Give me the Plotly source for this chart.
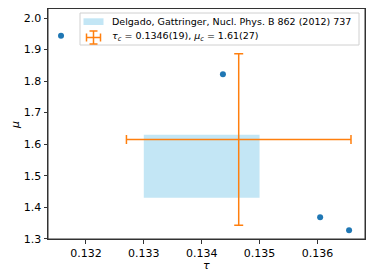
import plotly.graph_objects as go

# data
tau_points = [0.13157, 0.134367, 0.136047, 0.136547]
mu_points = [1.944, 1.822, 1.368, 1.327]

band_tau = [0.133, 0.135]
band_mu = [1.43, 1.63]
band_label = "Delgado, Gattringer, Nucl. Phys. B 862 (2012) 737"

tau_c = [0.13464]
tau_c_err = [0.00194]
mu_c = [1.615]
mu_c_err = [0.272]
crit_label = "<i>τ</i><sub><i>c</i></sub> = 0.1346(19), <i>μ</i><sub><i>c</i></sub> = 1.61(27)"

x_ticks = [0.132, 0.133, 0.134, 0.135, 0.136]
y_ticks = [1.3, 1.4, 1.5, 1.6, 1.7, 1.8, 1.9, 2.0]

BLUE = "#1f77b4"
ORANGE = "#ff7f0e"
BAND = "rgba(135,206,235,0.5)"
FONT = "DejaVu Sans"

# the page body adds an 8px offset; compensate so the final picture lines up
OFF = 8
W, H = 374, 280
PL, PT, PW, PH = 48, 8, 317, 231  # plot area in screen pixels
L, T = PL - OFF, PT - OFF
R, B = W - L - PW, H - T - PH


def px(x):
    return (x - OFF - L) / PW


def py(y):
    return (H - B - (y - OFF)) / PH


fig = go.Figure()

fig.add_trace(go.Scatter(
    x=[band_tau[0], band_tau[1], band_tau[1], band_tau[0], band_tau[0]],
    y=[band_mu[0], band_mu[0], band_mu[1], band_mu[1], band_mu[0]],
    fill="toself", fillcolor=BAND, mode="none", showlegend=False,
    hoverinfo="skip"))

fig.add_trace(go.Scatter(
    x=tau_c, y=mu_c, mode="markers",
    marker=dict(size=1, color="rgba(0,0,0,0)"),
    error_x=dict(type="data", array=tau_c_err, color=ORANGE, thickness=1.5, width=4.5),
    error_y=dict(type="data", array=mu_c_err, color=ORANGE, thickness=1.5, width=4.5),
    showlegend=False))

fig.add_trace(go.Scatter(
    x=tau_points, y=mu_points, mode="markers",
    marker=dict(size=6, color=BLUE), showlegend=False))

shapes = []
# plot frame
shapes.append(dict(type="rect", xref="paper", yref="paper",
                   x0=0, x1=1, y0=0, y1=py(8.5),
                   line=dict(color="#333", width=1),
                   fillcolor="rgba(0,0,0,0)", layer="above"))
# legend frame
shapes.append(dict(type="rect", xref="paper", yref="paper",
                   x0=px(80), x1=px(359), y0=py(45), y1=py(13),
                   line=dict(color="#d0d0d0", width=1),
                   fillcolor="rgba(255,255,255,0.8)", layer="above"))
# band swatch
shapes.append(dict(type="rect", xref="paper", yref="paper",
                   x0=px(83.5), x1=px(103.5), y0=py(25), y1=py(18.3),
                   line=dict(width=0), fillcolor=BAND, layer="above"))
# errorbar swatch
oc = dict(color=ORANGE, width=1.5)
cx, cy = 93.5, 37.5
for (x0, y0, x1, y1) in [
    (cx - 7, cy, cx + 7, cy), (cx, cy - 6.5, cx, cy + 6.5),
    (cx - 7, cy - 4, cx - 7, cy + 4), (cx + 7, cy - 4, cx + 7, cy + 4),
    (cx - 4, cy - 6.5, cx + 4, cy - 6.5), (cx - 4, cy + 6.5, cx + 4, cy + 6.5)]:
    shapes.append(dict(type="line", xref="paper", yref="paper",
                       x0=px(x0), x1=px(x1), y0=py(y0), y1=py(y1),
                       line=oc, layer="above"))

annotations = [
    dict(text=band_label, xref="paper", yref="paper", x=px(110), y=py(21.7),
         xanchor="left", yanchor="middle", showarrow=False,
         font=dict(family=FONT, size=9.5, color="black")),
    dict(text=crit_label, xref="paper", yref="paper", x=px(110), y=py(36.5),
         xanchor="left", yanchor="middle", showarrow=False,
         font=dict(family=FONT, size=9.5, color="black")),
    dict(text="<i>τ</i>", xref="paper", yref="paper", x=px(206), y=py(265),
         xanchor="center", yanchor="middle", showarrow=False,
         font=dict(family=FONT, size=11, color="black")),
    dict(text="<i>μ</i>", xref="paper", yref="paper", x=px(15), y=py(125),
         xanchor="center", yanchor="middle", showarrow=False, textangle=-90,
         font=dict(family=FONT, size=11, color="black")),
]

axis_common = dict(showline=True, mirror=True, linecolor="#333", linewidth=1,
                   ticks="outside", ticklen=3.5, tickwidth=1, tickcolor="#333",
                   showgrid=False, zeroline=False, automargin=False,
                   tickfont=dict(family=FONT, size=11, color="black"))

fig.update_layout(
    width=W, height=H,
    margin=dict(l=L, r=R, t=T, b=B, pad=0),
    plot_bgcolor="white", paper_bgcolor="white",
    shapes=shapes, annotations=annotations,
    xaxis=dict(range=[0.131345, 0.136822], tickvals=x_ticks,
               ticktext=[f"{v:.3f}" for v in x_ticks], **axis_common),
    yaxis=dict(range=[1.299, 2.032], tickvals=y_ticks,
               ticktext=[f"{v:.1f}" for v in y_ticks], **axis_common),
)

fig.write_html("out.html")
